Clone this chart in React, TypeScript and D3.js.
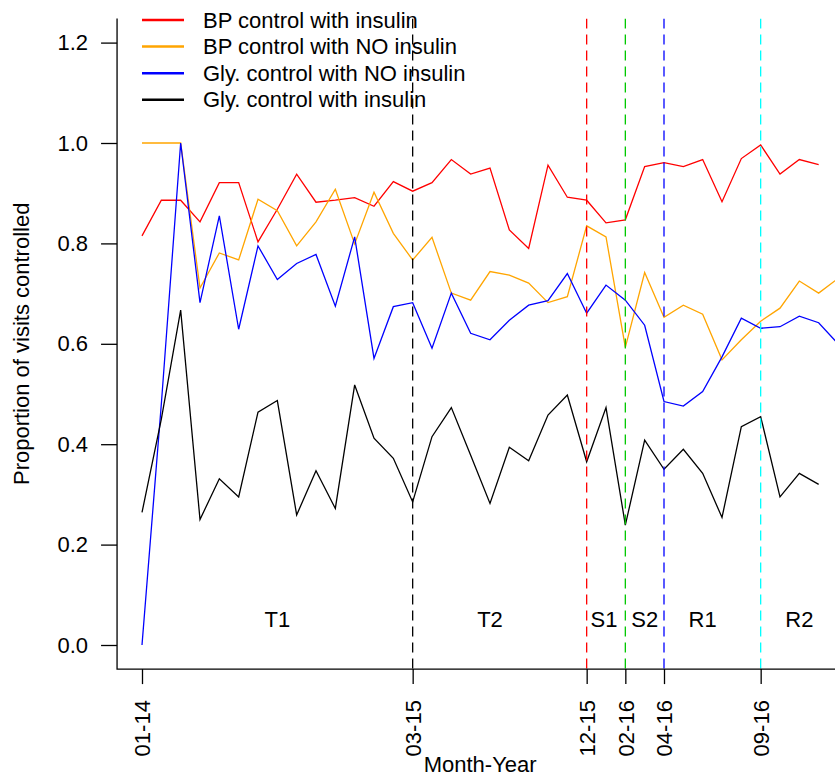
import * as d3 from "d3";
import React from "react";

// month index 0 = 01-14
const tickMonths = [0, 14, 23, 25, 27, 32];
const tickLabels = ["01-14", "03-15", "12-15", "02-16", "04-16", "09-16"];

const bpInsulin = [
  0.815, 0.886, 0.886, 0.843, 0.921, 0.921, 0.803, 0.868, 0.938, 0.882, 0.886,
  0.891, 0.874, 0.923, 0.904, 0.921, 0.967, 0.938, 0.95, 0.827, 0.79, 0.956,
  0.892, 0.886, 0.841, 0.847, 0.953, 0.961, 0.953, 0.967, 0.883, 0.969, 0.996,
  0.938, 0.967, 0.957,
];
const bpNoInsulin = [
  1.0, 1.0, 1.0, 0.711, 0.781, 0.767, 0.888, 0.865, 0.795, 0.843, 0.908, 0.799,
  0.902, 0.82, 0.767, 0.812, 0.701, 0.687, 0.744, 0.737, 0.721, 0.682, 0.694,
  0.835, 0.813, 0.593, 0.742, 0.653, 0.677, 0.659, 0.568, 0.608, 0.645, 0.671,
  0.725, 0.701, 0.73,
];
const glyNoInsulin = [
  0.0, 0.48, 1.0, 0.682, 0.855, 0.629, 0.795, 0.728, 0.76, 0.778, 0.675, 0.813,
  0.571, 0.674, 0.682, 0.591, 0.701, 0.621, 0.608, 0.647, 0.677, 0.686, 0.74,
  0.661, 0.717, 0.687, 0.637, 0.485, 0.476, 0.505, 0.574, 0.651, 0.631, 0.634,
  0.655, 0.642, 0.6,
];
const glyInsulin = [
  0.264, 0.45, 0.667, 0.25, 0.331, 0.295, 0.464, 0.487, 0.259, 0.347, 0.272,
  0.518, 0.412, 0.372, 0.285, 0.415, 0.473, 0.378, 0.282, 0.394, 0.367, 0.458,
  0.498, 0.365, 0.473, 0.239, 0.408, 0.35, 0.39, 0.342, 0.254, 0.435, 0.455,
  0.295, 0.342, 0.32,
];

const seriesNames = [
  "BP control with insulin",
  "BP control with NO insulin",
  "Gly. control with NO insulin",
  "Gly. control with insulin",
];
const seriesColors = ["#ff0000", "#ffa500", "#0000ff", "#000000"];
const seriesValues = [bpInsulin, bpNoInsulin, glyNoInsulin, glyInsulin];

// phase boundaries (dashed verticals)
const phaseMonths = [14, 23, 25, 27, 32];
const phaseColors = ["#000000", "#ff0000", "#00c800", "#0000ff", "#00ffff"];
const phaseLabels = ["T1", "T2", "S1", "S2", "R1", "R2"];
const phaseLabelMonths = [7, 18, 23.9, 26, 29, 34];

const yTicks = [0, 0.2, 0.4, 0.6, 0.8, 1.0, 1.2];

export default function App() {
  const svgRef = React.useRef(null);
  const width = 835;
  const height = 773;
  const font = "'Liberation Sans', Arial, sans-serif";

  React.useEffect(() => {
    const svg = d3.select(svgRef.current);
    svg.selectAll("*").remove();

    const x = d3.scaleLinear().domain([0, 36]).range([142, 838]);
    const y = d3.scaleLinear().domain([0, 1.2]).range([645, 42.6]);

    const left = x(-1.29);
    const right = x(36.27);
    const top = y(1.248);
    const bottom = y(-0.048);

    svg
      .append("defs")
      .append("clipPath")
      .attr("id", "plotclip")
      .append("rect")
      .attr("x", left)
      .attr("y", top)
      .attr("width", right - left)
      .attr("height", bottom - top);

    const plot = svg.append("g").attr("clip-path", "url(#plotclip)");

    const line = d3
      .line<number>()
      .x((_, i) => x(i))
      .y((d) => y(d));

    seriesValues.forEach((vals, k) => {
      plot
        .append("path")
        .attr("d", line(vals))
        .attr("fill", "none")
        .attr("stroke", seriesColors[k])
        .attr("stroke-width", 1.3);
    });

    // dashed phase lines
    phaseMonths.forEach((m, k) => {
      plot
        .append("line")
        .attr("x1", x(m))
        .attr("x2", x(m))
        .attr("y1", top)
        .attr("y2", bottom)
        .attr("stroke", phaseColors[k])
        .attr("stroke-width", 1.3)
        .attr("stroke-dasharray", "10,6");
    });

    // phase labels
    phaseLabels.forEach((lab, k) => {
      svg
        .append("text")
        .attr("x", x(phaseLabelMonths[k]))
        .attr("y", y(0.05))
        .attr("text-anchor", "middle")
        .attr("dominant-baseline", "central")
        .style("font-family", font)
        .style("font-size", "22px")
        .text(lab);
    });

    // L-shaped box
    svg
      .append("path")
      .attr("d", `M${left},${top}V${bottom}H${right}`)
      .attr("fill", "none")
      .attr("stroke", "#000")
      .attr("stroke-width", 1.3);

    // y axis
    const yAxis = svg
      .append("g")
      .attr("transform", `translate(${left},0)`)
      .call(
        d3
          .axisLeft(y)
          .tickValues(yTicks)
          .tickFormat(d3.format(".1f"))
          .tickSize(16)
          .tickPadding(13)
      );
    yAxis.select(".domain").remove();
    yAxis.selectAll("line").attr("stroke-width", 1.3);
    yAxis
      .selectAll("text")
      .style("font-family", font)
      .style("font-size", "22px")
      .attr("fill", "#000");

    // x axis
    const xAxis = svg
      .append("g")
      .attr("transform", `translate(0,${bottom})`)
      .call(
        d3
          .axisBottom(x)
          .tickValues(tickMonths)
          .tickFormat((_, i) => tickLabels[i])
          .tickSize(15)
      );
    xAxis.select(".domain").remove();
    xAxis.selectAll("line").attr("stroke-width", 1.3);
    xAxis
      .selectAll("text")
      .attr("transform", "translate(0,31) rotate(-90)")
      .attr("x", 0)
      .attr("y", 0)
      .attr("dy", "0.35em")
      .attr("text-anchor", "end")
      .style("font-family", font)
      .style("font-size", "22px")
      .attr("fill", "#000");

    // axis titles
    svg
      .append("text")
      .attr("x", (left + right) / 2)
      .attr("y", 772)
      .attr("text-anchor", "middle")
      .style("font-family", font)
      .style("font-size", "22px")
      .text("Month-Year");

    svg
      .append("text")
      .attr("transform", `translate(29,${(top + bottom) / 2}) rotate(-90)`)
      .attr("text-anchor", "middle")
      .style("font-family", font)
      .style("font-size", "22px")
      .text("Proportion of visits controlled");

    // legend
    const legend = svg.append("g");
    seriesNames.forEach((name, k) => {
      const ly = 20 + k * 26.6;
      legend
        .append("line")
        .attr("x1", 142)
        .attr("x2", 184)
        .attr("y1", ly)
        .attr("y2", ly)
        .attr("stroke", seriesColors[k])
        .attr("stroke-width", 2.5);
      legend
        .append("text")
        .attr("x", 203)
        .attr("y", ly)
        .attr("dominant-baseline", "central")
        .style("font-family", font)
        .style("font-size", "22px")
        .text(name);
    });
  }, []);

  return (
    <svg
      ref={svgRef}
      width={width}
      height={height}
      viewBox={`0 0 ${width} ${height}`}
      style={{ position: "absolute", left: 0, top: 0, background: "#fff" }}
    ></svg>
  );
}
